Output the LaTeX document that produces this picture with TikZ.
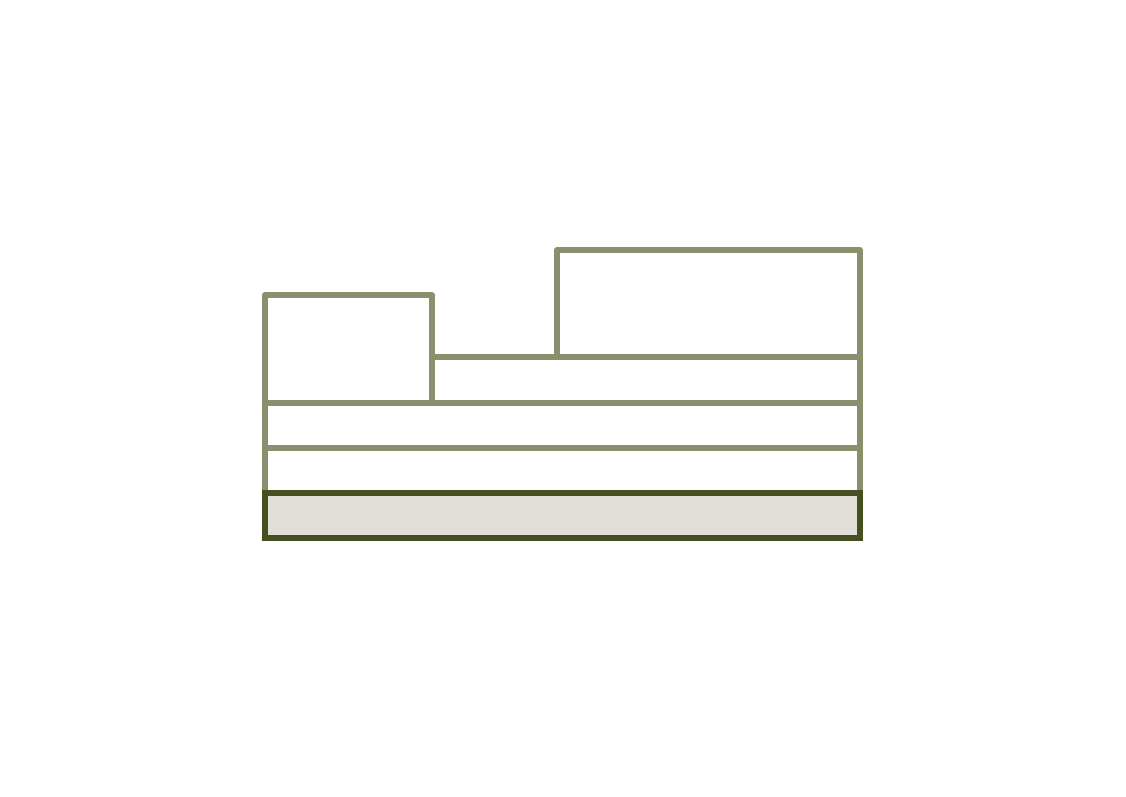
\documentclass[tikz,border=0pt]{standalone}
\usepackage{tikz}
\usepackage{xcolor}
\usetikzlibrary{positioning}
\definecolor{olivelight}{HTML}{8C8F6E}
\definecolor{olivedark}{HTML}{454F1F}
\definecolor{basefill}{HTML}{E2DFD8}
\tikzstyle{layer} = [draw=olivelight,line width=6pt,line join=round]
\tikzstyle{base} = [draw=olivedark,line width=6pt,fill=basefill]

\begin{document}
\begin{tikzpicture}[x=1pt,y=-1pt]
        \useasboundingbox (0, 0) rectangle (1126, 796);
        \draw[layer] (265, 448) rectangle (860, 493);
        \draw[layer] (265, 403) rectangle (860, 448);
        \draw[layer] (432, 357) rectangle (860, 403);
        \draw[layer] (265, 295) rectangle (432, 403);
        \draw[layer] (557, 250) rectangle (860, 357);
        \draw[base] (265, 493) rectangle (860, 538);
        \end{tikzpicture}
\end{document}
